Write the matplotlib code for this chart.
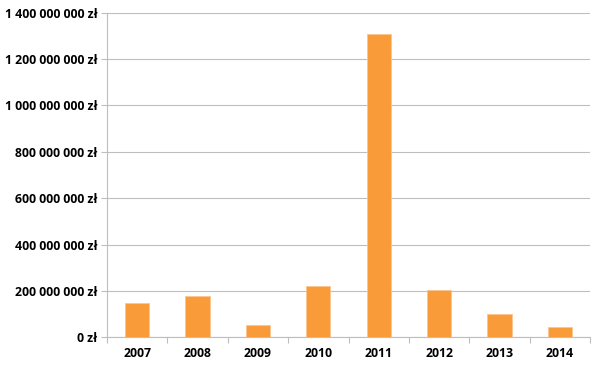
import matplotlib
matplotlib.use("Agg")
import matplotlib.pyplot as plt
from matplotlib.ticker import FuncFormatter, FixedLocator
import numpy as np

years = ["2007", "2008", "2009", "2010", "2011", "2012", "2013", "2014"]
values = [150e6, 180e6, 52e6, 222e6, 1307e6, 204e6, 102e6, 44e6]
yticks = [0, 200e6, 400e6, 600e6, 800e6, 1000e6, 1200e6, 1400e6]

plt.rcParams['font.family'] = ['Open Sans', 'DejaVu Sans']
plt.rcParams['font.weight'] = 'bold'

fig = plt.figure(figsize=(6.0, 3.68), dpi=100)
ax = fig.add_axes([107/600, 1 - 337.3/368, (590-107)/600, (337.3-12.7)/368])

x = np.arange(len(years))
ax.bar(x, values, width=0.4, color='#F99B38', edgecolor='#FCC590', linewidth=0.6, zorder=3)

ax.set_xlim(-0.5, len(years) - 0.5)
ax.set_ylim(0, 1400e6)
ax.set_yticks(yticks)

def fmt(v, pos):
    s = f"{int(round(v)):,}".replace(",", " ")
    return f"{s} zł"
ax.yaxis.set_major_formatter(FuncFormatter(fmt))
ax.grid(axis='y', color='#BEBEBE', linewidth=0.8, zorder=0)

ax.set_xticks(x)
ax.set_xticklabels(years, fontweight='bold')
ax.xaxis.set_minor_locator(FixedLocator(np.arange(-0.5, len(years), 1.0)))
ax.tick_params(axis='x', which='major', length=0, pad=7, labelsize=8.8)
ax.tick_params(axis='x', which='minor', length=4, color='#BEBEBE', width=0.8)
ax.tick_params(axis='y', length=4, color='#BEBEBE', width=0.8, labelsize=8.8, pad=3)

for s in ['top', 'right']:
    ax.spines[s].set_visible(False)
ax.spines['left'].set_color('#BEBEBE')
ax.spines['bottom'].set_color('#BEBEBE')
ax.spines['left'].set_linewidth(0.8)
ax.spines['bottom'].set_linewidth(0.8)

fig.savefig("out.png", dpi=100)
